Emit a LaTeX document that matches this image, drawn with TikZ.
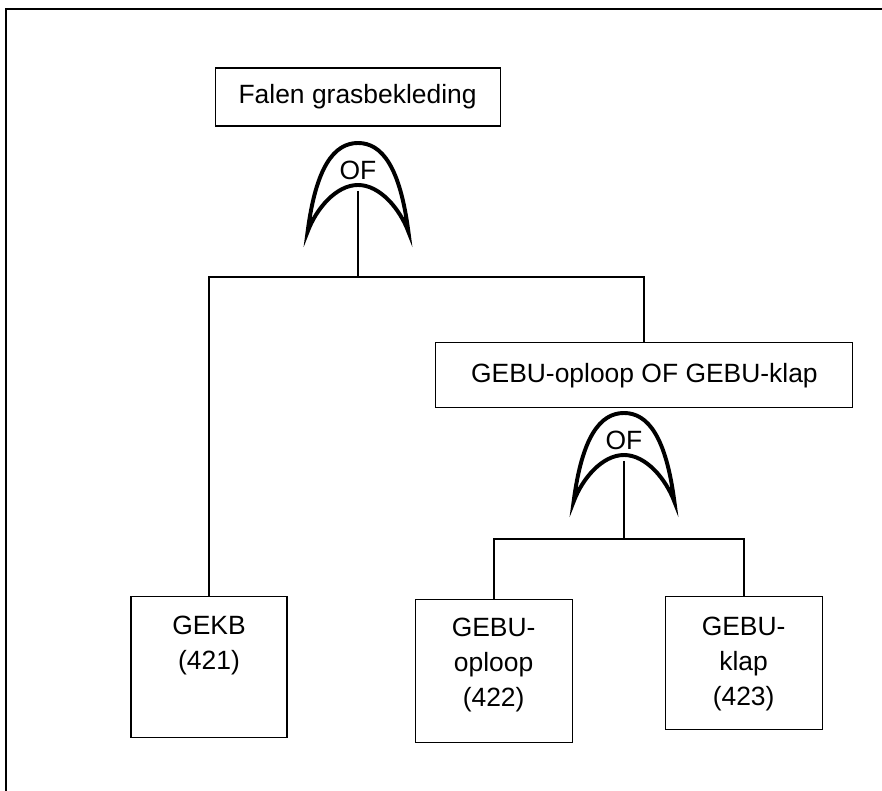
\documentclass[tikz,border=0pt]{standalone}
\usepackage{fontspec}
\setmainfont{Liberation Sans}
\usetikzlibrary{positioning}
\newcommand{\lblfont}{\fontsize{18.8}{24.9}\selectfont}
\tikzset{
  event/.style = {draw, line width=0.8pt, inner sep=0pt, font=\lblfont},
  lbl/.style = {inner sep=0pt, align=center, font=\lblfont},
  conn/.style = {line width=1.3pt},
  gateline/.style = {line width=2.8pt, line join=miter},
  ofgate/.pic = {
    \draw[gateline] (-1.26,-2.22) .. controls (-1.05,-0.6) and (-0.6,0) .. (0,0)
      .. controls (0.6,0) and (1.05,-0.6) .. (1.26,-2.22)
      .. controls (1.05,-1.65) and (0.55,-1.05) .. (0,-1.05)
      .. controls (-0.55,-1.05) and (-1.05,-1.65) .. (-1.26,-2.22) -- cycle;
    \node[lbl] (-lbl) at (0,-0.68) {OF};
    \coordinate (-out) at (0,-1.2);
  }
}

\begin{document}
\begin{tikzpicture}

  \useasboundingbox (0,0) rectangle (22.05,19.775);

  %% Fault tree grasbekleding

  % Frame
  \draw[line width=1.3pt] (22.05,19.55) -- (0.15,19.55) -- (0.15,0);

  % Top event
  \node[event, minimum width=7.125cm, minimum height=1.45cm] (top) at (8.94,17.35) {Falen grasbekleding};
  \pic (g1) at (8.95,16.2) {ofgate};

  % Intermediate event
  \node[event, minimum width=10.425cm, minimum height=1.625cm] (mid) at (16.11,10.39) {GEBU-oploop OF GEBU-klap};
  \pic (g2) at (15.6,9.45) {ofgate};

  % Basic events
  \node[event, minimum width=3.9cm, minimum height=3.525cm] (gekb) at (5.225,3.11) {};
  \node[lbl, below=0.5cm of gekb.north] (gekbtxt) {GEKB\\(421)};

  \node[event, minimum width=3.925cm, minimum height=3.575cm] (oploop) at (12.34,2.99) {};
  \node[lbl, below=0.45cm of oploop.north] (oplooptxt) {GEBU-\\oploop\\(422)};

  \node[event, minimum width=3.925cm, minimum height=3.325cm] (klap) at (18.59,3.19) {};
  \node[lbl, below=0.5cm of klap.north] (klaptxt) {GEBU-\\klap\\(423)};

  % Connectors
  \coordinate (j1) at (8.95,12.85);
  \coordinate (j2) at (15.6,6.3);
  \draw[conn] (g1-out) -- (j1);
  \draw[conn] (gekb.north) |- (j1) -| (mid.north);
  \draw[conn] (g2-out) -- (j2);
  \draw[conn] (oploop.north) |- (j2) -| (klap.north);

\end{tikzpicture}
\end{document}
